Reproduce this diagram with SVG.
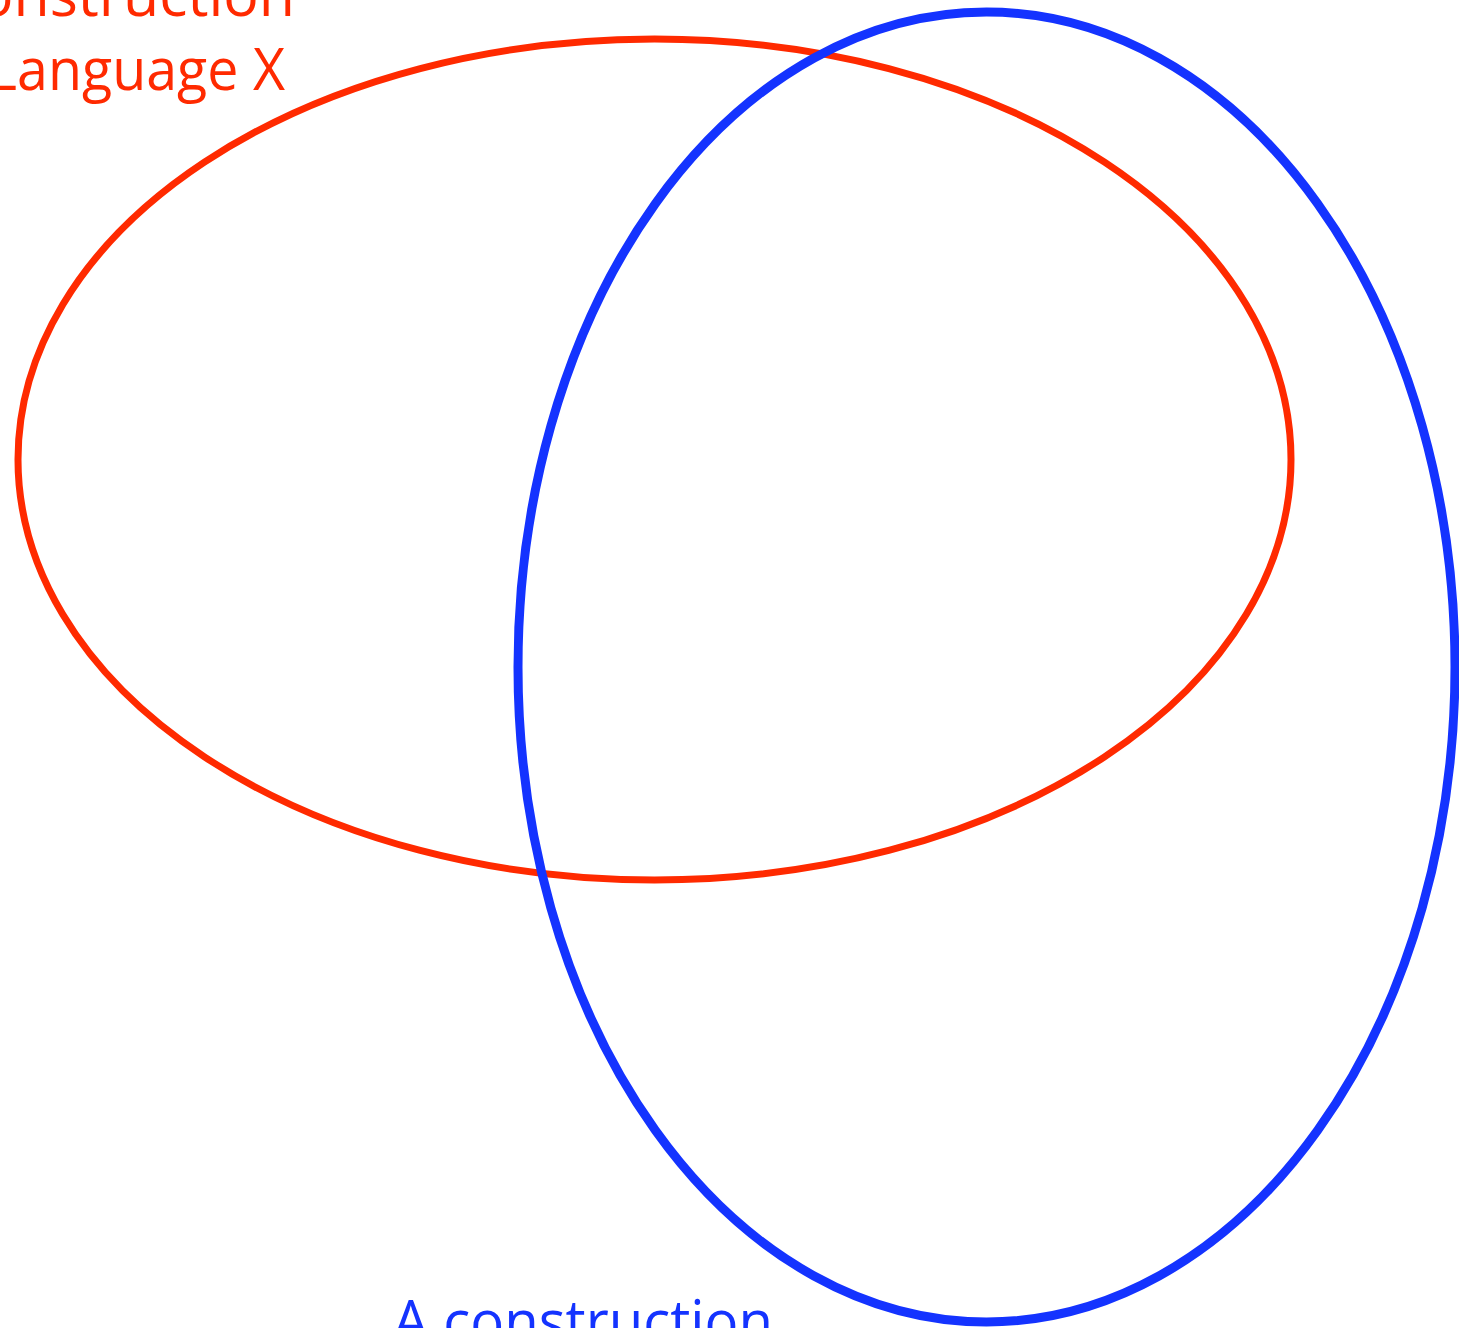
<svg xmlns="http://www.w3.org/2000/svg" width="1459" height="1328" viewBox="0 0 1459 1328">
<style>
.lbl{font-family:"Open Sans","Liberation Sans",sans-serif;font-size:59px}
.red{fill:#ff2a00}
.blue{fill:#1433ff}
</style>
<rect width="1459" height="1328" fill="#ffffff"/>
<g id="set-x">
<ellipse cx="654.5" cy="459.5" rx="636.5" ry="420.5" fill="none" stroke="#ff2a00" stroke-width="7"/>
<text class="lbl red" x="295" y="16" text-anchor="end">Construction</text>
<text class="lbl red" x="-12" y="90" textLength="297" lengthAdjust="spacingAndGlyphs">Language X</text>
</g>
<g id="set-y">
<ellipse cx="986.5" cy="667" rx="468.5" ry="655" fill="none" stroke="#1433ff" stroke-width="9"/>
<text class="lbl blue" x="393" y="1342" textLength="380" lengthAdjust="spacingAndGlyphs">A construction</text>
</g>
<g id="connectors"/>
</svg>
